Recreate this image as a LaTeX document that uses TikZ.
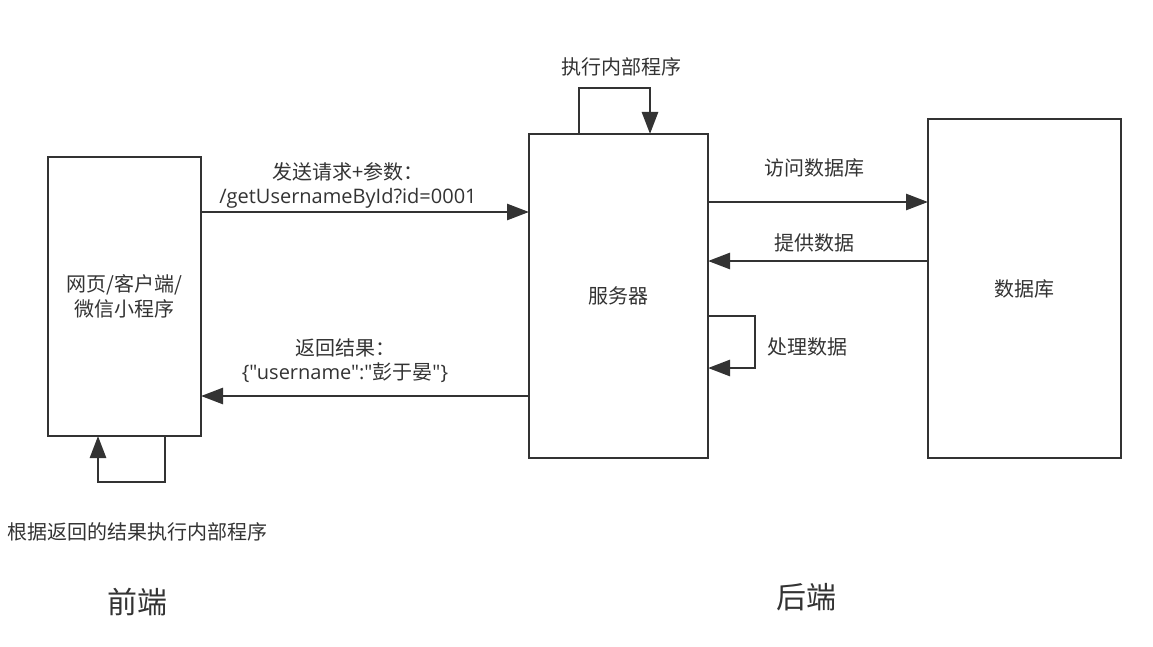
\documentclass[tikz,border=0pt]{standalone}
\usepackage{fontspec}
\newfontfamily\cjk{Noto Sans CJK SC}
\newfontfamily\latin{Open Sans}
\usetikzlibrary{arrows.meta}
\definecolor{ink}{HTML}{333333}
\begin{document}
\begin{tikzpicture}[x=1pt,y=-1pt,
  box/.style={draw=ink, line width=2.7pt, inner sep=0pt, outer sep=0pt, fill=white,
    text=ink, font=\cjk\fontsize{20}{25}\selectfont, align=center},
  lbl/.style={text=ink, font=\cjk\fontsize{20}{24}\selectfont, align=center, inner sep=0pt},
  big/.style={text=ink, font=\cjk\fontsize{30}{36}\selectfont, inner sep=0pt},
  arr/.style={draw=ink, line width=2.7pt, -{Triangle[length=22pt,width=16pt]}}]
\useasboundingbox (0,0) rectangle (1153,647);

% the three main blocks
\node[box, minimum width=153pt, minimum height=279pt] (client) at (124.5,296.5) {网页/客户端/\\微信小程序};
\node[box, minimum width=179pt, minimum height=324pt] (server) at (618.5,296) {服务器};
\node[box, minimum width=193pt, minimum height=339pt] (db) at (1024.5,288.5) {数据库};

% request and response between front end and server
\draw[arr] (client.east |- 0,212) -- (server.west |- 0,212);
\node[lbl] (reqlbl) at (348,185) {发送请求+参数：\\{\latin /getUsernameById?id=0001}};
\draw[arr] (server.west |- 0,396) -- (client.east |- 0,396);
\node[lbl] (retlbl) at (345,360.5) {返回结果：\\{\latin\{"username":"}彭于晏{\latin"\}}};

% front end self loop
\draw[arr] (client.south -| 165,0) -- (165,482) -- (98,482) -- (client.south -| 98,0);
\node[lbl] (clientloop) at (137,532) {根据返回的结果执行内部程序};

% server self loops
\draw[arr] (server.north -| 579,0) -- (579,88) -- (650,88) -- (server.north -| 650,0);
\node[lbl] (srvloop) at (621,67) {执行内部程序};
\draw[arr] (server.east |- 0,316) -- (755,316) -- (755,368) -- (server.east |- 0,368);
\node[lbl] (proc) at (807,347) {处理数据};

% server and database
\draw[arr] (server.east |- 0,202) -- (db.west |- 0,202);
\node[lbl] (acc) at (814,168) {访问数据库};
\draw[arr] (db.west |- 0,261) -- (server.east |- 0,261);
\node[lbl] (prov) at (814,243) {提供数据};

% section captions
\node[big] (front) at (137,602) {前端};
\node[big] (back) at (806,597) {后端};
\end{tikzpicture}
\end{document}
